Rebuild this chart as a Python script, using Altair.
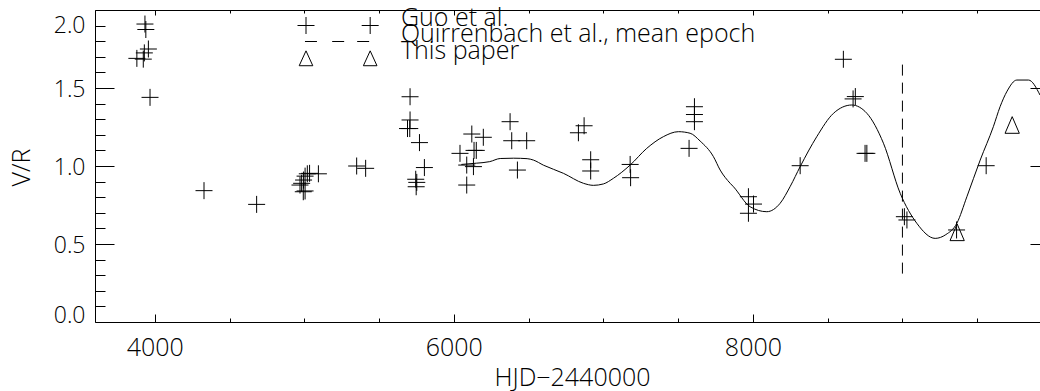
import altair as alt
import pandas as pd

FONT = "Open Sans"

# ---- data ----
guo_x = [3880, 3923, 3930, 3957, 3934, 3940, 3968, 4329, 4681,
         4971, 4982, 4993, 5005, 4995, 5005, 5020, 5035, 5094,
         5350, 5410, 5690, 5705, 5707, 5707, 5770, 5803, 5745, 5752, 5748,
         6041, 6086, 6086, 6120, 6197, 6135, 6150, 6131,
         6376, 6387, 6487, 6425, 6833, 6871, 6915, 6915, 7179, 7182,
         7573, 7609, 7609, 7609, 7970, 8004, 7970, 8316, 8605, 8670, 8685,
         8750, 8762, 9013, 9030, 9362, 9560]
guo_y = [1.69, 1.685, 1.725, 1.75, 1.91, 1.875, 1.44, 0.842, 0.754,
         0.878, 0.889, 0.835, 0.84, 0.91, 0.935, 0.95, 0.953, 0.95,
         1.0, 0.985, 1.24, 1.24, 1.295, 1.444, 1.15, 0.99, 0.915, 0.895, 0.867,
         1.081, 1.006, 0.878, 1.205, 1.184, 1.10, 1.10, 0.996,
         1.284, 1.162, 1.162, 0.974, 1.213, 1.258, 1.04, 0.968, 1.01, 0.925,
         1.113, 1.38, 1.33, 1.284, 0.803, 0.756, 0.697, 1.002, 1.684, 1.43, 1.445,
         1.081, 1.081, 0.675, 0.654, 0.59, 1.002]

this_x = [9366, 9734]
this_y = [0.575, 1.263]

curve_x = [6050, 6150, 6240, 6310, 6400, 6490, 6532, 6600, 6733, 6867, 6933,
           7000, 7067, 7179, 7290, 7401, 7502, 7580, 7647, 7736, 7781, 7848,
           7870, 7981, 8093, 8182, 8250, 8316, 8427, 8539, 8661, 8762, 8873,
           8985, 9096, 9219, 9290, 9364, 9431, 9520, 9608, 9653, 9700, 9765,
           9843, 9920]
curve_y = [1.010, 1.018, 1.028, 1.048, 1.050, 1.047, 1.038, 1.005, 0.953, 0.889, 0.876,
           0.885, 0.921, 1.006, 1.113, 1.188, 1.220, 1.210, 1.160, 1.060, 0.974, 0.889,
           0.867, 0.739, 0.707, 0.761, 0.870, 0.996, 1.188, 1.338, 1.391, 1.338, 1.146,
           0.825, 0.633, 0.536, 0.560, 0.633, 0.803, 1.038, 1.252, 1.380, 1.480, 1.551,
           1.551, 1.455]

epoch_x = [9000]
epoch_y = [0.31, 1.65]

legend_labels = ["Guo et al.", "Quirrenbach et al., mean epoch", "This paper"]

x_labels = [4000, 6000, 8000]
x_ticks = [4000, 4500, 5000, 5500, 6000, 6500, 7000, 7500, 8000, 8500, 9000, 9500]
y_labels = [0.0, 0.5, 1.0, 1.5, 2.0]
y_ticks = [0.0, 0.1, 0.2, 0.3, 0.4, 0.5, 0.6, 0.7, 0.8, 0.9, 1.0, 1.1, 1.2, 1.3,
           1.4, 1.5, 1.6, 1.7, 1.8, 1.9, 2.0]

# ---- symbols ----
PLUS = "M-1,0L1,0M0,-1L0,1"
TRI = "M0,-0.98L0.84,0.98L-0.84,0.98Z"
LEG_PLUS = "M-1,0L1,0M0,-1L0,1M6.55,0L8.55,0M7.55,-1L7.55,1"
LEG_DASH = "M0,-1M0,1M-0.12,0L1.29,0M3.08,0L4.49,0M6.02,0L7.43,0"
LEG_TRI = "M0,-1M0,-0.9L0.8,0.85L-0.8,0.85ZM7.55,-0.9L8.35,0.85L6.75,0.85ZM0,1"
legend_paths = [LEG_PLUS, LEG_DASH, LEG_TRI]

guo = pd.DataFrame({"x": guo_x, "y": guo_y})
thisp = pd.DataFrame({"x": this_x, "y": this_y})
curve = pd.DataFrame({"x": curve_x, "y": curve_y})
epoch = pd.DataFrame({"x": epoch_x, "y": [epoch_y[1]], "y2": [epoch_y[0]]})

xs = alt.Scale(domain=[3600, 9920], nice=False, zero=False)
ys = alt.Scale(domain=[0, 2], nice=False, zero=False)

W, H = 945, 312

ax_main = alt.Axis(orient="bottom", values=x_labels, format="d", ticks=False, tickSize=0,
                   domain=True, domainColor="black", domainWidth=1, grid=False,
                   labelFont=FONT, labelFontSize=25, labelFontWeight=300, labelColor="black",
                   labelPadding=25, labelBaseline="middle", labelFlush=False,
                   title="HJD\u22122440000", titleFont=FONT, titleFontSize=25,
                   titleFontWeight=300, titleColor="black", titleX=477, titleY=55,
                   titleBaseline="middle")
ay_main = alt.Axis(orient="left", values=y_labels, format=".1f", ticks=False, tickSize=0,
                   domain=True, domainColor="black", domainWidth=1, grid=False,
                   labelFont=FONT, labelFontSize=23, labelFontWeight=300, labelColor="black",
                   labelPadding=10, labelBaseline="middle", labelFlush=False,
                   labelOffset={"expr": "datum.value == 0 ? -7 : (datum.value == 2 ? 15 : 1)"},
                   title="V/R", titleFont=FONT, titleFontSize=25, titleFontWeight=300,
                   titleColor="black", titleX=-74, titleY=157, titleBaseline="middle")
ax_in_bottom = alt.Axis(orient="top", offset=-H, values=x_ticks, domain=False, labels=False,
                        title=None, grid=False, tickColor="black", tickWidth=1,
                        tickSize={"expr": "datum.value % 2000 == 0 ? 8 : 4"})
ax_in_top = alt.Axis(orient="bottom", offset=-H, values=x_ticks, domain=True,
                     domainColor="black", domainWidth=1, labels=False, title=None, grid=False,
                     tickColor="black", tickWidth=1,
                     tickSize={"expr": "datum.value % 2000 == 0 ? 5 : 3"})
ay_in_left = alt.Axis(orient="right", offset=-W, values=y_ticks, domain=False, labels=False,
                      title=None, grid=False, tickColor="black", tickWidth=1,
                      tickSize={"expr": "round(datum.value * 2) == datum.value * 2 ? 19 : 10"})
ay_in_right = alt.Axis(orient="left", offset=-W, values=[0.5, 1.0, 1.5], domain=False,
                       labels=False, title=None, grid=False, tickColor="black", tickWidth=1,
                       tickSize=10)

pts = alt.Chart(guo).mark_point(shape=PLUS, size=289, filled=False, stroke="black",
                                strokeWidth=1, opacity=1).encode(
    x=alt.X("x:Q", scale=xs, axis=ax_main),
    y=alt.Y("y:Q", scale=ys, axis=ay_main),
)
tri = alt.Chart(thisp).mark_point(shape=TRI, size=289, filled=False, stroke="black",
                                  strokeWidth=1, opacity=1).encode(
    x=alt.X("x:Q", scale=xs, axis=ax_in_bottom),
    y=alt.Y("y:Q", scale=ys, axis=ay_in_left),
)
line = alt.Chart(curve).mark_line(color="black", strokeWidth=1, interpolate="monotone").encode(
    x=alt.X("x:Q", scale=xs, axis=ax_in_top),
    y=alt.Y("y:Q", scale=ys, axis=ay_in_right),
)
rule = alt.Chart(epoch).mark_rule(color="black", strokeWidth=1, strokeDash=[11, 7]).encode(
    x=alt.X("x:Q", scale=xs, axis=None),
    y=alt.Y("y:Q", scale=ys, axis=None),
    y2="y2:Q",
)

# one single-entry legend per series, stacked tightly like the original
legend_rows_y = [3, 19, 36]
legend_layers = []
for lab, path, ly in zip(legend_labels, legend_paths, legend_rows_y):
    legend_layers.append(
        alt.Chart(pd.DataFrame({"series": [lab]})).mark_point(
            filled=False, color="black", opacity=0, size=289).encode(
            shape=alt.Shape("series:N",
                            scale=alt.Scale(domain=[lab], range=[path]),
                            legend=alt.Legend(orient="none", legendX=198.5, legendY=ly,
                                              padding=0, offset=0, labelOffset=82.5,
                                              labelFont=FONT, labelFontSize=25,
                                              labelFontWeight=300, labelColor="black",
                                              labelBaseline="alphabetic", labelLimit=1000,
                                              symbolSize=289, symbolStrokeWidth=1,
                                              symbolStrokeColor="black", symbolOpacity=1,
                                              symbolFillColor="transparent", title=None))
        )
    )

chart = alt.layer(pts, tri, line, rule, *legend_layers).resolve_axis(
    x="independent", y="independent"
).resolve_scale(shape="independent").resolve_legend(shape="independent").properties(
    width=W, height=H,
    autosize=alt.AutoSizeParams(type="none"),
    padding={"left": 95, "top": 10, "right": 0, "bottom": 69},
    background="white",
).configure_view(stroke=None)

chart.save("out.html", embed_options={"renderer": "svg", "actions": False})
